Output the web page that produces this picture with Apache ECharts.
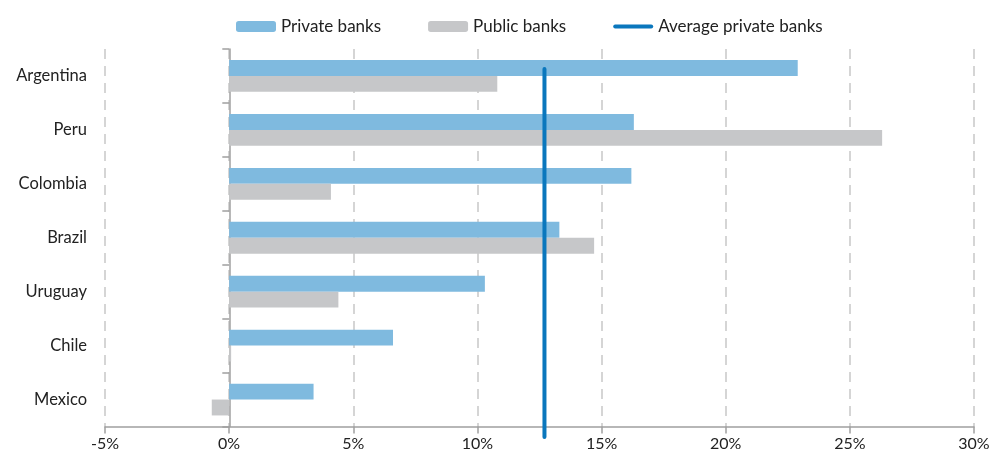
<!DOCTYPE html>
<html>
<head>
<meta charset="utf-8">
<script src="https://cdn.jsdelivr.net/npm/echarts@6/dist/echarts.min.js"></script>
<style>html,body{margin:0;padding:0;background:#fff;}#c{width:995px;height:456px;}</style>
</head>
<body>
<div id="c"></div>
<script>
const countries = ['Argentina', 'Peru', 'Colombia', 'Brazil', 'Uruguay', 'Chile', 'Mexico'];
const privateBanks = [22.9, 16.3, 16.2, 13.3, 10.3, 6.6, 3.4];
const publicBanks = [10.8, 26.3, 4.1, 14.7, 4.4, 0.08, -0.7];
const averagePrivate = 12.7;
const xTicks = [-5, 0, 5, 10, 15, 20, 25, 30];
const seriesNames = ['Private banks', 'Public banks', 'Average private banks'];

const FONT = 'Lato';
const AXIS_GREY = '#a0a0a0';
const chart = echarts.init(document.getElementById('c'), null, {renderer: 'canvas'});
chart.setOption({
  animation: false,
  textStyle: {fontFamily: FONT},
  legend: {
    data: [
      {name: seriesNames[0]},
      {name: seriesNames[1]},
      {name: seriesNames[2], icon: 'path://M2,0 L38,0 A2,2 0 0 1 38,4 L2,4 A2,2 0 0 1 2,0 Z'}
    ],
    left: 231, top: 13,
    itemWidth: 40, itemHeight: 11, itemGap: 47,
    symbolKeepAspect: true,
    textStyle: {fontFamily: FONT, fontSize: 17, color: '#222'}
  },
  grid: {left: 105, right: 21, top: 49, bottom: 29.5, containLabel: false, outerBoundsMode: 'none'},
  xAxis: {
    type: 'value', min: xTicks[0], max: xTicks[xTicks.length - 1], interval: 5,
    axisLine: {show: true, onZero: false, lineStyle: {color: AXIS_GREY, width: 1.5}},
    axisTick: {show: true, length: 7, lineStyle: {color: AXIS_GREY, width: 1.5}},
    axisLabel: {formatter: '{value}%', fontSize: 16, color: '#222', margin: 9, fontFamily: FONT},
    splitLine: {show: true, lineStyle: {color: '#c8c8c8', width: 1.5, type: [10, 7]}}
  },
  yAxis: [{
    // labels only, at the left edge of the plot
    type: 'category', data: countries, inverse: true, position: 'left',
    axisLine: {show: false, onZero: false},
    axisTick: {show: false},
    axisLabel: {fontSize: 16.5, color: '#222', margin: 18, fontFamily: FONT},
    splitLine: {show: false}
  }, {
    type: 'value', min: 0, max: 1, show: false
  }, {
    // axis line + ticks at x = 0
    type: 'category', data: countries, inverse: true, position: 'left',
    offset: -124.3,
    axisLine: {show: true, onZero: false, lineStyle: {color: AXIS_GREY, width: 1.5}},
    axisTick: {show: true, length: 7, lineStyle: {color: AXIS_GREY, width: 1.5}},
    axisLabel: {show: false},
    splitLine: {show: false}
  }],
  series: [{
    name: seriesNames[0], type: 'bar', data: privateBanks,
    barGap: '0%', barCategoryGap: '41%',
    itemStyle: {color: '#7fbadf'}
  }, {
    name: seriesNames[1], type: 'bar', data: publicBanks,
    barGap: '0%', barCategoryGap: '41%',
    itemStyle: {color: '#c6c7c9'}
  }, {
    name: seriesNames[2], type: 'line', yAxisIndex: 1, clip: false,
    data: [[averagePrivate, -0.028], [averagePrivate, 0.947]],
    symbol: 'none', showSymbol: false, z: 10,
    lineStyle: {color: '#0a77bd', width: 4, cap: 'round'},
    itemStyle: {color: '#0a77bd'}
  }]
});
</script>
</body>
</html>
